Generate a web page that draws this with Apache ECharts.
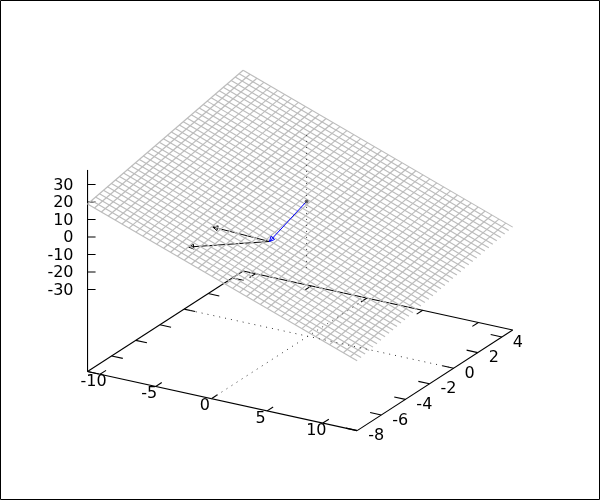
<!DOCTYPE html>
<html><head><meta charset="utf-8"><style>html,body{margin:0;padding:0;background:#fff}#c{width:600px;height:500px}</style>
<script src="https://cdn.jsdelivr.net/npm/echarts@6/dist/echarts.min.js"></script></head><body><div id="c"></div>
<script>
const xTicks=[-10,-5,0,5,10];
const yTicks=[-8,-6,-4,-2,0,2,4];
const zTicks=[-30,-20,-10,0,10,20,30];
const xRange=[-11.12,13.08], yRange=[-8,4.9], zRange=[-38,38], zFloor=-76.9, zTop=38.3;
const gridX=[-11.12,-10.50,-9.88,-9.26,-8.64,-8.02,-7.40,-6.78,-6.16,-5.54,-4.92,-4.29,-3.67,-3.05,-2.43,-1.81,-1.19,-0.57,0.05,0.67,1.29,1.91,2.53,3.15,3.77,4.39,5.02,5.64,6.26,6.88,7.50,8.12,8.74,9.36,9.98,10.60,11.22,11.84,12.46];
const gridY=[-8,-7.67,-7.34,-7.01,-6.68,-6.35,-6.02,-5.68,-5.35,-5.02,-4.69,-4.36,-4.03,-3.70,-3.37,-3.04,-2.71,-2.38,-2.05,-1.71,-1.38,-1.05,-0.72,-0.39,-0.06,0.27,0.60,0.93,1.26,1.59,1.92,2.25,2.59,2.92,3.25,3.58,3.91,4.24,4.57,4.90];
const zAtYmin=[18.87,17.44,16.00,14.57,13.14,11.70,10.27,8.84,7.40,5.97,4.54,3.10,1.67,0.24,-1.20,-2.63,-4.06,-5.50,-6.93,-8.36,-9.80,-11.23,-12.66,-14.10,-15.53,-16.96,-18.40,-19.83,-21.26,-22.70,-24.13,-25.56,-27.00,-28.43,-29.86,-31.30,-32.73,-34.16,-35.60];
const zAtYmax=[37.77,36.34,34.90,33.47,32.04,30.60,29.17,27.74,26.30,24.87,23.44,22.00,20.57,19.14,17.70,16.27,14.84,13.40,11.97,10.54,9.10,7.67,6.24,4.80,3.37,1.94,0.50,-0.93,-2.36,-3.80,-5.23,-6.66,-8.10,-9.53,-10.96,-12.40,-13.83,-15.26,-16.70];
const zAtXmin=[18.87,19.35,19.84,20.32,20.81,21.29,21.78,22.26,22.75,23.23,23.72,24.20,24.69,25.17,25.65,26.14,26.62,27.11,27.59,28.08,28.56,29.05,29.53,30.02,30.50,30.98,31.47,31.95,32.44,32.92,33.41,33.89,34.38,34.86,35.35,35.83,36.31,36.80,37.28,37.77];
const zAtXmax=[-37.03,-36.55,-36.06,-35.58,-35.09,-34.61,-34.12,-33.64,-33.15,-32.67,-32.18,-31.70,-31.21,-30.73,-30.25,-29.76,-29.28,-28.79,-28.31,-27.82,-27.34,-26.85,-26.37,-25.88,-25.40,-24.92,-24.43,-23.95,-23.46,-22.98,-22.49,-22.01,-21.52,-21.04,-20.55,-20.07,-19.59,-19.10,-18.62,-18.13];
const origin=[-0.12,0,0];
const blueTip=[0.78,-3.91,-4.23];
const blackTips=[[-3.02,-5.10,4.06],[-3.06,-7.06,1.3]];

const P=(x,y,z)=>[11.14*x+12.06*y, 2.44*x-7.8*y-1.75*z];
const seg=(a,b)=>[...P(...a),...P(...b)];
const axes=[];
const [x0,x1]=xRange,[y0,y1]=yRange;
axes.push(seg([x0,y0,zFloor],[x1,y0,zFloor]),seg([x1,y0,zFloor],[x1,y1,zFloor]),seg([x1,y1,zFloor],[x0,y1,zFloor]),seg([x0,y1,zFloor],[x0,y0,zFloor]),seg([x0,y0,zFloor],[x0,y0,zTop]));
xTicks.forEach(t=>{axes.push(seg([t,y0,zFloor],[t,y0+.5,zFloor]),seg([t,y1,zFloor],[t,y1-.5,zFloor]));});
yTicks.forEach(t=>{axes.push(seg([x0,t,zFloor],[x0+1,t,zFloor]),seg([x1,t,zFloor],[x1-1,t,zFloor]));});
zTicks.forEach(t=>{axes.push(seg([x0,y0,t],[x0+.72,y0,t+1]));});
const mesh=[];
gridX.forEach((x,i)=>mesh.push(seg([x,y0,zAtYmin[i]],[x,y1,zAtYmax[i]])));
gridY.forEach((y,j)=>mesh.push(seg([x0,y,zAtXmin[j]],[x1,y,zAtXmax[j]])));
const dotted=[seg([0,y0,zFloor],[0,y1,zFloor]),seg([x0,0,zFloor],[x1,0,zFloor]),seg([origin[0],0,zRange[0]],[origin[0],0,zRange[1]])];
const labels=[];
xTicks.forEach(t=>labels.push([...P(t,y0,zFloor),String(t),-6.5,7.5,'center']));
yTicks.forEach(t=>labels.push([...P(x1,t,zFloor),String(t),11,5.5,'left']));
zTicks.forEach(t=>labels.push([...P(x0,y0,t),String(t),-14,1,'right']));
const segSeries=(data,style,z)=>({type:'custom',coordinateSystem:'cartesian2d',clip:false,silent:true,z,animation:false,data,encode:{x:[0,2],y:[1,3]},
 renderItem:(p,api)=>{const a=api.coord([api.value(0),api.value(1)]),b=api.coord([api.value(2),api.value(3)]);return{type:'line',shape:{x1:a[0],y1:a[1],x2:b[0],y2:b[1]},style};}});
const arrow=(from,to,color,z)=>({type:'custom',coordinateSystem:'cartesian2d',clip:false,silent:true,z,animation:false,data:[seg(from,to)],encode:{x:[0,2],y:[1,3]},
 renderItem:(p,api)=>{const a=api.coord([api.value(0),api.value(1)]),b=api.coord([api.value(2),api.value(3)]);
  const ang=Math.atan2(a[1]-b[1],a[0]-b[0]),L=5.5,w=.45;
  const h1=[b[0]+L*Math.cos(ang+w),b[1]+L*Math.sin(ang+w)],h2=[b[0]+L*Math.cos(ang-w),b[1]+L*Math.sin(ang-w)];
  return{type:'group',children:[{type:'line',shape:{x1:a[0],y1:a[1],x2:b[0],y2:b[1]},style:{stroke:color,lineWidth:1}},
   {type:'polygon',shape:{points:[b,h1,h2]},style:{fill:'none',stroke:color,lineWidth:1}}]};}});
const opt={animation:false,backgroundColor:'#fff',
 grid:{left:0,right:0,top:0,bottom:0},
 xAxis:{type:'value',show:false,min:-307.9,max:292.1},
 yAxis:{type:'value',show:false,inverse:true,min:-201.7,max:298.3},
 graphic:[{type:'rect',shape:{x:.5,y:.5,width:599,height:499},style:{fill:'none',stroke:'#000',lineWidth:1},z:100}],
 series:[
  segSeries(axes,{stroke:'#000',lineWidth:1.1},2),
  ...blackTips.map(t=>arrow(blueTip,t,'#000',3)),
  segSeries(mesh,{stroke:'#bcbcbc',lineWidth:1.15},4),
  segSeries(dotted,{stroke:'#333',lineWidth:1,lineDash:[1,5]},5),
  arrow(origin,blueTip,'#0000ff',6),
  {type:'scatter',coordinateSystem:'cartesian2d',z:7,silent:true,animation:false,symbol:'circle',symbolSize:4,itemStyle:{color:'#444'},data:[P(...origin)]},
  {type:'custom',coordinateSystem:'cartesian2d',clip:false,silent:true,z:8,animation:false,data:labels,encode:{x:0,y:1},
   renderItem:(p,api)=>{const a=api.coord([api.value(0),api.value(1)]);const d=labels[p.dataIndex];return{type:'text',x:a[0]+d[3],y:a[1]+d[4],style:{text:d[2],fill:'#000',font:'16px "DejaVu Sans"',align:d[5],verticalAlign:'middle'}};}}
 ]};
echarts.init(document.getElementById('c'),null,{renderer:'canvas'}).setOption(opt);
</script></body></html>
